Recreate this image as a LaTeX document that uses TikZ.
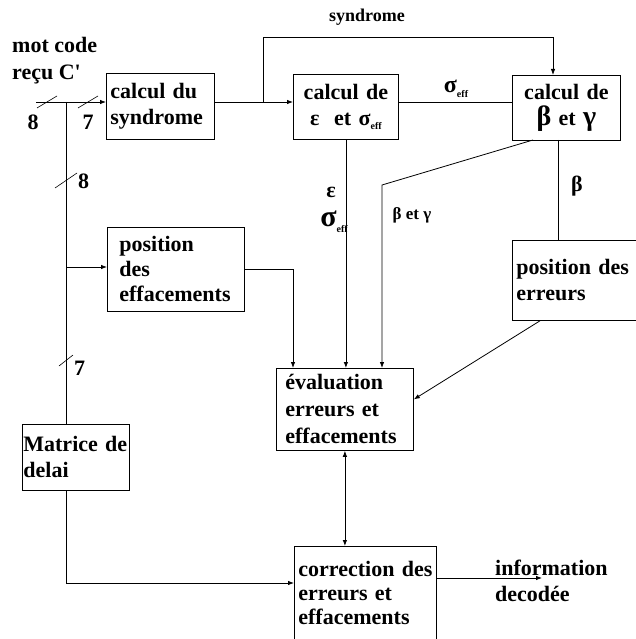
\documentclass[tikz,border=0pt]{standalone}
\usepackage{fontspec}
\setmainfont{Liberation Serif}
\usetikzlibrary{positioning, calc, arrows.meta}

\newcommand{\effsub}{\raisebox{-0.45ex}{\fontsize{10}{10}\selectfont eff}}
\newcommand{\grand}[1]{{\fontsize{28}{28}\selectfont #1}}

\begin{document}
\begin{tikzpicture}[x=1pt, y=-1pt,
    bloc/.style={draw, line width=0.8pt, inner sep=4pt, align=left, anchor=north west,
                 font=\bfseries\fontsize{22}{26}\selectfont},
    lab/.style={inner sep=0pt, font=\bfseries\fontsize{22}{26}\selectfont},
    ligne/.style={line width=0.8pt},
    arr/.style={line width=0.8pt, -{Latex[length=6pt,width=4.5pt]}},
    barre/.style={line width=0.6pt}]

  \clip (0,0) rectangle (636,639);

  % blocs
  \node[bloc, text width=100pt, minimum height=66pt] (synd) at (106,73) {calcul du\\syndrome};
  \node[bloc, text width=97pt, minimum height=65pt, align=center] (epsig) at (293,74) {calcul de\\ε\ \ et σ\effsub};
  \node[bloc, text width=100pt, minimum height=65pt, align=center] (betgam) at (512,75) {calcul de\\\grand{β} et \grand{γ}};
  \node[bloc, inner xsep=12pt, text width=113pt, minimum height=84pt, font=\bfseries\fontsize{22}{25}\selectfont] (poseff) at (107,227) {position\\des\\effacements};
  \node[bloc, text width=140pt, minimum height=80pt] (poserr) at (512,240) {position des\\erreurs};
  \node[bloc, inner xsep=9pt, text width=119pt, minimum height=82pt, font=\bfseries\fontsize{22}{27}\selectfont] (eval) at (276,368) {évaluation\\erreurs et\\effacements};
  \node[bloc, inner xsep=1pt, text width=105pt, minimum height=66pt] (mat) at (22,424) {Matrice de\\delai};
  \node[bloc, inner xsep=4pt, text width=134pt, minimum height=94pt, font=\bfseries\fontsize{22}{24}\selectfont] (corr) at (294,546) {\mbox{correction des}\\erreurs et\\effacements};

  % textes
  \node[lab, align=left, anchor=north west, font=\bfseries\fontsize{22}{27}\selectfont] (mot) at (12,37) {mot code\\reçu C\textquotesingle};
  \node[lab] (n8a) at (33,122) {8};
  \node[lab] (n7a) at (88,122) {7};
  \node[lab, anchor=west] (n8b) at (78,181) {8};
  \node[lab, anchor=west] (n7b) at (74,368) {7};
  \node[lab, font=\bfseries\fontsize{18}{18}\selectfont] (lsynd) at (367,17) {syndrome};
  \node[lab, font=\bfseries\fontsize{24}{24}\selectfont] (lsig) at (456,89) {σ\effsub};
  \node[lab, font=\bfseries\fontsize{22}{22}\selectfont] (lbeta) at (577,186) {β};
  \node[lab, font=\bfseries\fontsize{17}{17}\selectfont] (lbg) at (412,215) {β et γ};
  \node[lab] (leps) at (331,192) {ε};
  \node[lab, font=\bfseries\fontsize{30}{30}\selectfont] (lsig2) at (334,222) {σ\effsub};
  \node[lab, align=left, anchor=west] (linfo) at (495,581) {information\\decodée};

  % points de jonction
  \coordinate (in) at (36,102);
  \coordinate (j1) at (66,102);
  \coordinate (j2) at (66,267);
  \coordinate (j3) at (66,583);
  \coordinate (j4) at (263,102);
  \coordinate (k1) at (553,37);
  \coordinate (b1) at (533,140);
  \coordinate (b2) at (382,185);
  \coordinate (b3) at (558,140);
  \coordinate (out) at (542,578);

  % liaisons
  \draw[arr] (in) -- (in -| synd.west);
  \draw[ligne] (j1) -- (j1 |- mat.north);
  \draw[arr] (j2) -- (j2 -| poseff.west);
  \draw[arr] (j1 |- mat.south) -- (j3) -- (j3 -| corr.west);
  \draw[arr] (synd.east |- in) -- (epsig.west |- in);
  \draw[arr] (j4) |- (k1) -- (k1 |- betgam.north);
  \draw[ligne] (epsig.east |- in) -- (betgam.west |- in);
  \draw[arr] (epsig.south) -- (epsig.south |- eval.north);
  \draw[arr] (b1) -- (b2) -- (b2 |- eval.north);
  \draw[ligne] (b3) -- (b3 |- poserr.north);
  \draw[arr] ([xshift=28pt]poserr.south west) -- ([yshift=10pt]eval.east);
  \draw[arr] (poseff.east) -| ([xshift=17pt]eval.north west);
  \draw[line width=0.8pt, {Latex[length=6pt,width=4.5pt]}-{Latex[length=6pt,width=4.5pt]}] (eval.south) -- (eval.south |- corr.north);
  \draw[arr] (out -| corr.east) -- (out);

  % barres de bus
  \draw[barre] (37,108) -- (57,96);
  \draw[barre] (78,108) -- (98,96);
  \draw[barre] (55,188) -- (77,173);
  \draw[barre] (59,366) -- (73,355);
\end{tikzpicture}
\end{document}
